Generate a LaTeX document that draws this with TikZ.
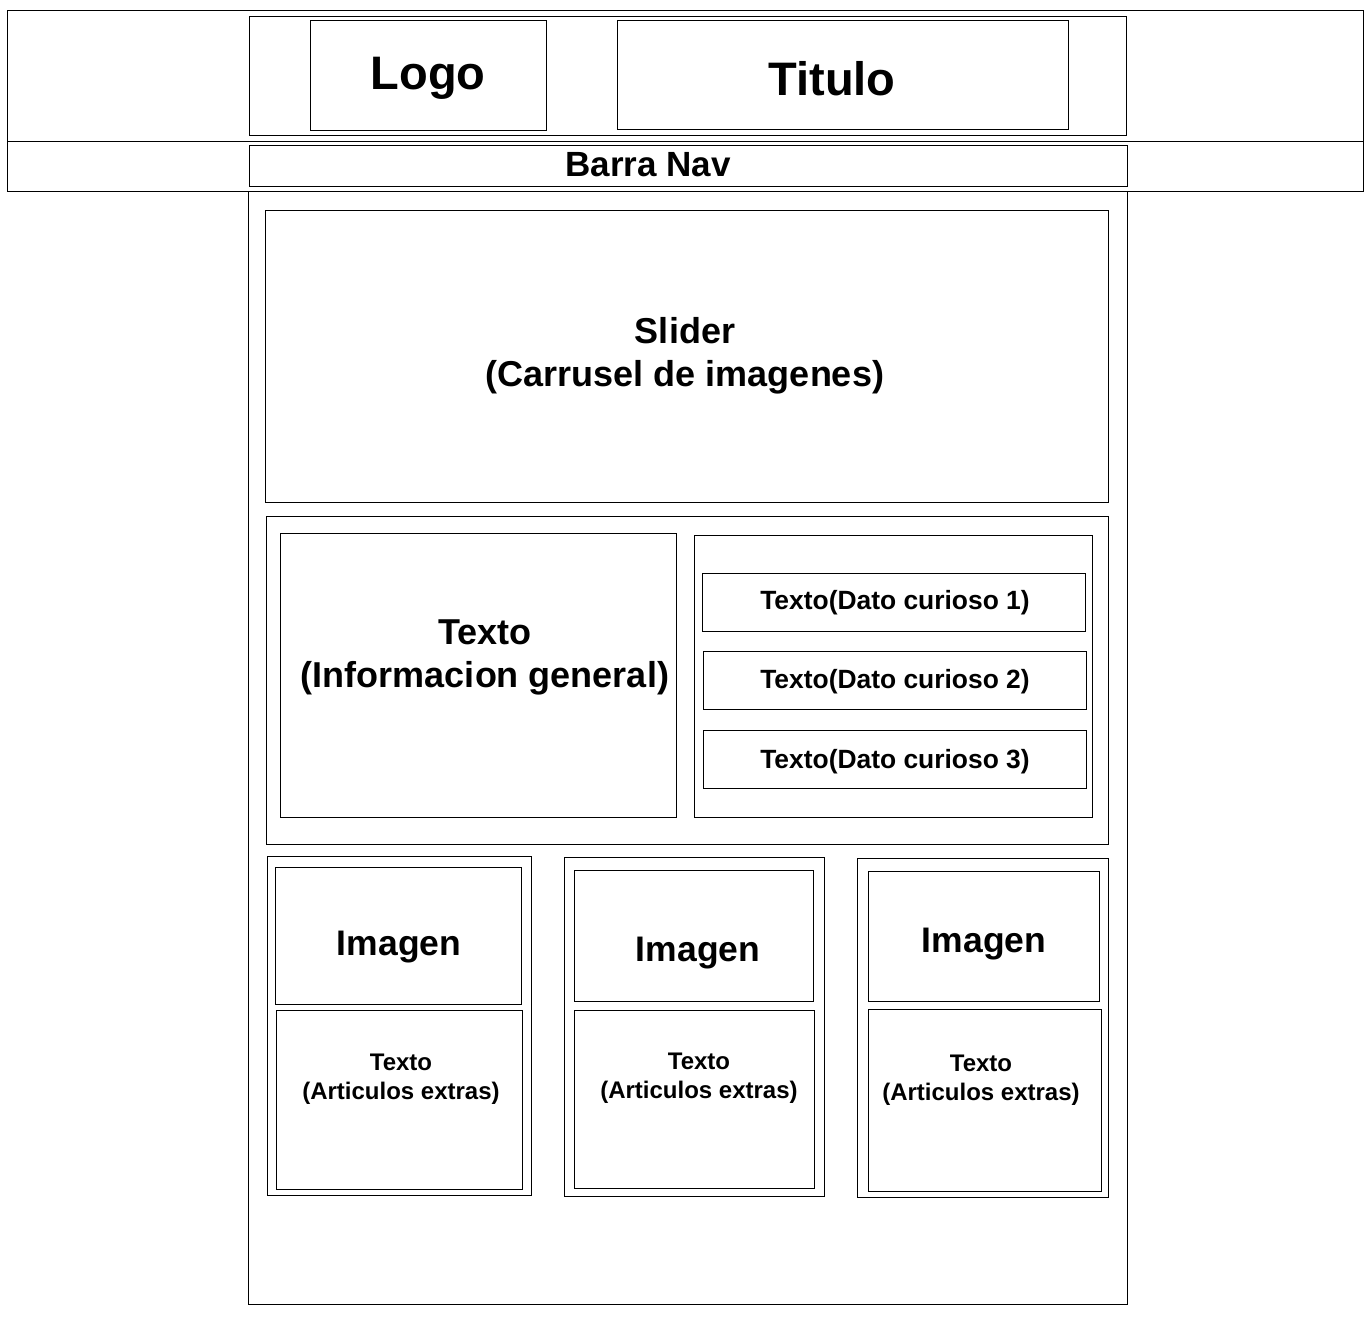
\documentclass[tikz,border=0pt]{standalone}
\usepackage{fontspec}
\setmainfont{Liberation Sans}
\usetikzlibrary{fit}
\begin{document}
\begin{tikzpicture}[x=1pt,y=-1pt,
  frame/.style={draw=black, line width=1pt, inner sep=0pt, rectangle},
  lbl/.style 2 args={inner sep=0pt, align=center,
    font=\bfseries\fontsize{#1}{#2}\selectfont}]
\fill[white] (0,0) rectangle (1369,1317);
\useasboundingbox (0,0) rectangle (1369,1317);

% header bands across the page
\node[frame, fit={(7,10) (1363,141)}] (headband) {};
\node[frame, fit={(7,141) (1363,191)}] (navband) {};

% header contents
\node[frame, fit={(249,16) (1126,135)}] (header) {};
\node[frame, fit={(310,20) (546,130)}] (logobox) {};
\node[frame, fit={(617,20) (1068,129)}] (titlebox) {};
\node[lbl={47}{56}] (logo) at (428,78) {Logo};
\node[lbl={47}{56}] (title) at (832,79) {Titulo};

% navigation bar
\node[frame, fit={(249,145) (1127,186)}] (navbox) {};
\node[lbl={35}{42}, anchor=base] (nav) at (648,176) {Barra Nav};

% page body
\node[frame, fit={(248,191) (1127,1304)}] (body) {};

% slider
\node[frame, fit={(265,210) (1108,502)}] (slider) {};
\node[lbl={36}{43}] (slidertxt) at (685,356) {Slider\\(Carrusel de imagenes)};

% information section
\node[frame, fit={(266,516) (1108,844)}] (infosec) {};
\node[frame, fit={(280,533) (676,817)}] (infobox) {};
\node[lbl={36}{43}] (infotxt) at (485,657) {Texto\\(Informacion general)};
\node[frame, fit={(694,535) (1092,817)}] (factsbox) {};
\node[frame, fit={(702,573) (1085,631)}] (fact1) {};
\node[frame, fit={(703,651) (1086,709)}] (fact2) {};
\node[frame, fit={(703,730) (1086,788)}] (fact3) {};
\node[lbl={26.4}{31}] (fact1txt) at (895,603) {Texto(Dato curioso 1)};
\node[lbl={26.4}{31}] (fact2txt) at (895,682) {Texto(Dato curioso 2)};
\node[lbl={26.4}{31}] (fact3txt) at (895,762) {Texto(Dato curioso 3)};

% article cards
\node[frame, fit={(267,856) (531,1195)}] (card1) {};
\node[frame, fit={(275,867) (521,1004)}] (img1) {};
\node[frame, fit={(276,1010) (522,1189)}] (art1) {};
\node[lbl={35.5}{42}] (img1txt) at (399,947) {Imagen};
\node[lbl={24}{29}] (art1txt) at (401,1079) {Texto\\(Articulos extras)};

\node[frame, fit={(564,857) (824,1196)}] (card2) {};
\node[frame, fit={(574,870) (813,1001)}] (img2) {};
\node[frame, fit={(574,1010) (814,1188)}] (art2) {};
\node[lbl={35.5}{42}] (img2txt) at (698,953) {Imagen};
\node[lbl={24}{29}] (art2txt) at (699,1078) {Texto\\(Articulos extras)};

\node[frame, fit={(857,858) (1108,1197)}] (card3) {};
\node[frame, fit={(868,871) (1099,1001)}] (img3) {};
\node[frame, fit={(868,1009) (1101,1191)}] (art3) {};
\node[lbl={35.5}{42}] (img3txt) at (984,944) {Imagen};
\node[lbl={24}{29}] (art3txt) at (981,1080) {Texto\\(Articulos extras)};
\end{tikzpicture}
\end{document}
